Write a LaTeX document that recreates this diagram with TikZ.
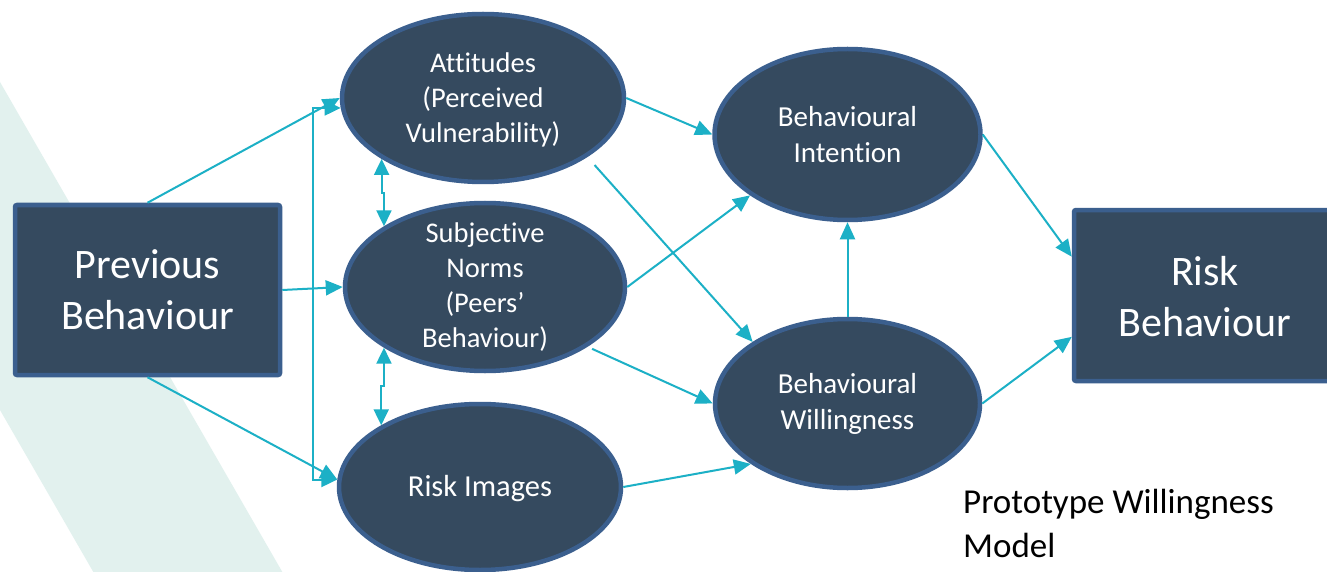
\documentclass[tikz,border=0pt]{standalone}
\usepackage{fontspec}
\setmainfont{Carlito}[Ligatures=NoCommon]
\usetikzlibrary{arrows.meta,shapes.geometric,calc}
\definecolor{nodefill}{HTML}{354A5F}
\definecolor{nodeline}{HTML}{3B5F8E}
\definecolor{linkc}{HTML}{1CB0C6}
\definecolor{bandc}{HTML}{E2F1EE}
\begin{document}
\begin{tikzpicture}[x=1pt,y=-1pt,
  oval/.style={ellipse, draw=nodeline, fill=nodefill, line width=4.5pt, inner sep=0pt},
  box/.style={rectangle, draw=nodeline, fill=nodefill, line width=4.5pt, rounded corners=2pt, inner sep=0pt},
  ovaltext/.style={text=white, align=center, inner sep=0pt, font=\fontsize{28.5}{35}\selectfont},
  boxtext/.style={text=white, align=center, inner sep=0pt, font=\fontsize{42}{51}\selectfont},
  link/.style={draw=linkc, line width=2pt, -{Triangle[length=17pt,width=15pt]}},
  twoway/.style={draw=linkc, line width=2pt, {Triangle[length=16pt,width=15pt]}-{Triangle[length=16pt,width=15pt]}}]
% canvas and the pale diagonal band behind the left side
\clip (0,0) rectangle (1327,572);
\fill[white] (0,0) rectangle (1327,572);
\fill[bandc] (0,82) -- (310,620) -- (121,620) -- (0,410) -- cycle;

% boxes
\node[box, minimum width=265pt, minimum height=170pt] (pb) at (147.5,290) {};
\node[boxtext] at (pb) {Previous\\Behaviour};
\node[box, minimum width=266pt, minimum height=171pt] (rb) at (1207,295.5) {};
\node[boxtext] at (1205,297) {Risk\\Behaviour};

% ellipses
\node[oval, minimum width=282pt, minimum height=168pt] (att) at (483,98) {};
\node[ovaltext] at ([yshift=-2pt]att.center) {Attitudes\\(Perceived\\Vulnerability)};
\node[oval, minimum width=280pt, minimum height=168pt] (sn) at (485,287) {};
\node[ovaltext] at (sn) {Subjective\\Norms\\(Peers’\\Behaviour)};
\node[oval, minimum width=282pt, minimum height=166pt] (ri) at (480,487) {};
\node[ovaltext, font=\fontsize{30.5}{35}\selectfont] at ([yshift=-2pt]ri.center) {Risk Images};
\node[oval, minimum width=266pt, minimum height=171pt] (bi) at (847.5,134.5) {};
\node[ovaltext, font=\fontsize{29}{36}\selectfont] at (bi) {Behavioural\\Intention};
\node[oval, minimum width=265pt, minimum height=169pt] (bw) at (847.5,403.5) {};
\node[ovaltext, font=\fontsize{29}{36}\selectfont] at (bw) {Behavioural\\Willingness};

% caption
\node[anchor=base west, inner sep=0pt, text=black, font=\fontsize{35}{44}\selectfont] (title) at (963,513)
  {\parbox[t]{360pt}{\raggedright Prototype Willingness\\Model}};

% connectors from previous behaviour
\draw[link] (pb.north) -- (att.west);
\draw[link] (pb.east) -- (sn.west);
\draw[link] (pb.south) -- (ri.177);
\coordinate (rail) at (313,300);
\draw[twoway] (att.184) -| (rail) |- (ri.177);

% links between the left-hand ellipses
\draw[twoway] (att.211) |- ($(att.211)!.5!(sn.149)$) -| (sn.149);
\draw[twoway] (sn.211) |- ($(sn.211)!.5!(ri.148)$) -| (ri.148);

% links to intention and willingness
\draw[link] (att.east) -- (bi.west);
\draw[link] ($(att.center)!1.1!(att.-31)$) -- (bw.147);
\draw[link] (sn.east) -- (bi.212);
\draw[link] ($(sn.center)!1.04!(sn.-30)$) -- (bw.west);
\draw[link] (ri.east) -- (bw.212);
\draw[link] (bw.north) -- (bi.south);

% links to risk behaviour
\draw[link] (bi.east) -- (rb.164);
\draw[link] (bw.east) -- (rb.197);
\end{tikzpicture}
\end{document}
